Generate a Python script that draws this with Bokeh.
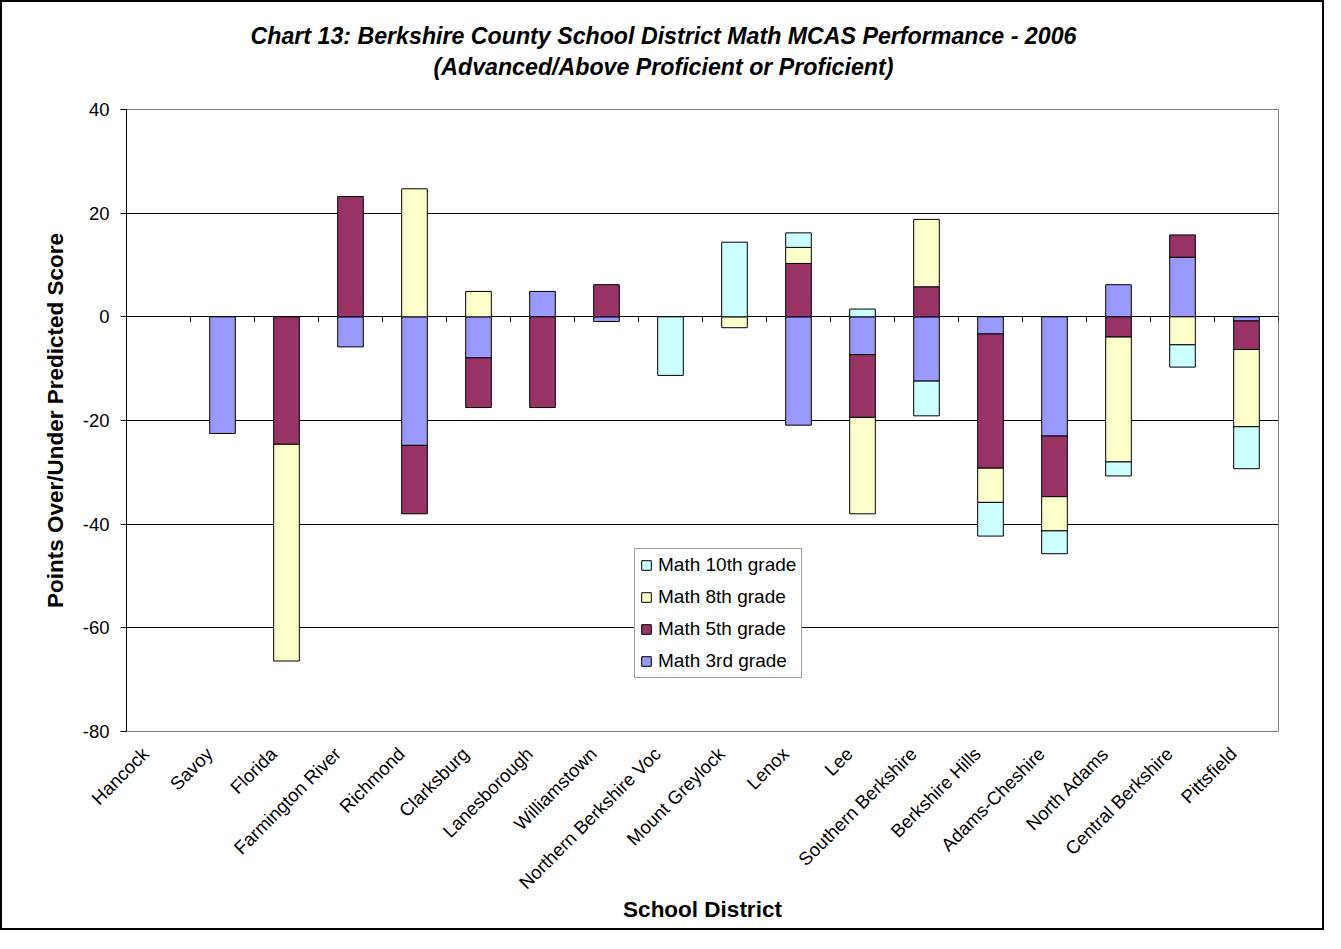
import math
import numpy as np
from bokeh.plotting import figure
from bokeh.models import (Range1d, Legend, LegendItem, Title,
                          FixedTicker, ColumnDataSource)
from bokeh.embed import file_html
from bokeh.resources import INLINE

# ---------------- data ----------------
districts = ["Hancock", "Savoy", "Florida", "Farmington River", "Richmond",
             "Clarksburg", "Lanesborough", "Williamstown",
             "Northern Berkshire Voc", "Mount Greylock", "Lenox", "Lee",
             "Southern Berkshire", "Berkshire Hills", "Adams-Cheshire",
             "North Adams", "Central Berkshire", "Pittsfield"]

math_3rd = [None, -22.5, None, -5.8, -24.8, -7.9, 4.9, -0.9, None, None,
            -20.9, -7.3, -12.4, -3.3, -23.0, 6.2, 11.5, -0.8]
math_5th = [None, None, -24.6, 23.2, -13.2, -9.6, -17.5, 6.2, None, None,
            10.3, -12.1, 5.8, -25.9, -11.7, -3.9, 4.3, -5.5]
math_8th = [None, None, -41.8, None, 24.7, 4.9, None, None, None, -2.1,
            3.1, -18.6, 13.0, -6.6, -6.6, -24.1, -5.4, -14.9]
math_10th = [None, None, None, None, None, None, None, None, -11.3, 14.4,
             2.8, 1.5, -6.7, -6.5, -4.4, -2.7, -4.3, -8.1]

series_names = ["Math 3rd grade", "Math 5th grade", "Math 8th grade", "Math 10th grade"]
series_values = [math_3rd, math_5th, math_8th, math_10th]
series_colors = ["#9999FF", "#993366", "#FFFFCC", "#CCFFFF"]

y_ticks = [-80, -60, -40, -20, 0, 20, 40]
grid_ticks = [-60, -40, -20, 0, 20]

title_line1 = "Chart 13: Berkshire County School District Math MCAS Performance - 2006"
title_line2 = "(Advanced/Above Proficient or Proficient)"

FONT = "Liberation Sans"

# ---------------- figure ----------------
n = len(districts)
centers = np.arange(n) + 0.5          # category centres on the x scale
boundaries = np.arange(n + 1)         # category separators (tick marks)
label_shift = 13 / 64.0               # Excel-style anchoring of slanted labels
label_pos = centers - label_shift

p = figure(width=1324, height=930, x_range=Range1d(0, n),
           y_range=Range1d(-80, 40), output_backend="svg", toolbar_location=None,
           title=None,
           min_border_left=124, min_border_right=48, min_border_top=107,
           min_border_bottom=201)
p.styles = {"border": "2px solid black"}
p.background_fill_color = "white"
p.border_fill_color = "white"
p.outline_line_color = "#808080"
p.outline_line_width = 1

# stacked bars, Excel style (positives up, negatives down)
pos_base = np.zeros(n)
neg_base = np.zeros(n)
renderers = {}
for name, vals, color in zip(series_names, series_values, series_colors):
    v = np.array([np.nan if a is None else a for a in vals], dtype=float)
    bottom = np.where(v >= 0, pos_base, neg_base)
    top = bottom + v
    pos_base = np.where(v > 0, pos_base + np.nan_to_num(v), pos_base)
    neg_base = np.where(v < 0, neg_base + np.nan_to_num(v), neg_base)
    src = ColumnDataSource(dict(x=centers, d=districts, top=top, bottom=bottom))
    r = p.vbar(x="x", top="top", bottom="bottom", width=0.4, source=src,
               fill_color=color, line_color="black", line_width=1)
    renderers[name] = r

# category tick marks on the zero line
tick_len = 5 * (40 - (-80)) / 622.0
p.segment(x0=boundaries, y0=np.zeros(n + 1), x1=boundaries,
          y1=np.full(n + 1, -tick_len), line_color="black", line_width=1)

# grid
p.xgrid.grid_line_color = None
p.ygrid.ticker = FixedTicker(ticks=grid_ticks)
p.ygrid.grid_line_color = "black"
p.ygrid.grid_line_width = 1

# y axis
p.yaxis.ticker = FixedTicker(ticks=y_ticks)
p.yaxis.major_label_overrides = {t: str(t) for t in y_ticks}
p.yaxis.axis_line_color = "black"
p.yaxis.major_tick_out = 6
p.yaxis.major_tick_in = 0
p.yaxis.minor_tick_line_color = None
p.yaxis.major_label_standoff = 11
p.yaxis.major_label_text_font = FONT
p.yaxis.major_label_text_font_size = "18.5px"
p.yaxis.major_label_text_color = "black"
p.yaxis.axis_label = "Points Over/Under Predicted Score"
p.yaxis.axis_label_text_font = FONT
p.yaxis.axis_label_text_font_size = "22.5px"
p.yaxis.axis_label_text_font_style = "bold"
p.yaxis.axis_label_text_color = "black"
p.yaxis.axis_label_standoff = 12

# x axis (category names)
p.xaxis.ticker = FixedTicker(ticks=list(label_pos))
p.xaxis.major_label_overrides = {float(xp): d for xp, d in zip(label_pos, districts)}
p.xaxis.axis_line_color = None
p.xaxis.major_tick_line_color = None
p.xaxis.minor_tick_line_color = None
p.xaxis.major_label_orientation = math.pi / 4
p.xaxis.major_label_standoff = 13
p.xaxis.major_label_text_font = FONT
p.xaxis.major_label_text_font_size = "18.5px"
p.xaxis.major_label_text_color = "black"
p.xaxis.axis_label = "School District"
p.xaxis.axis_label_text_font = FONT
p.xaxis.axis_label_text_font_size = "22.5px"
p.xaxis.axis_label_text_font_style = "bold"
p.xaxis.axis_label_text_color = "black"
p.xaxis.axis_label_standoff = -7

# title: two lines, centred over the whole chart area
p.add_layout(Title(text=title_line2, align="left", offset=307, standoff=60,
                   text_font=FONT, text_font_size="23.2px",
                   text_font_style="bold italic", text_color="black"), "above")
p.add_layout(Title(text=title_line1, align="left", offset=124, standoff=-54,
                   text_font=FONT, text_font_size="23.2px",
                   text_font_style="bold italic", text_color="black"), "above")

# legend
items = [LegendItem(label=nm, renderers=[renderers[nm]]) for nm in reversed(series_names)]
legend = Legend(items=items, location=(508, 53), orientation="vertical",
                label_text_font=FONT, label_text_font_size="19px",
                label_text_color="black", glyph_width=12, glyph_height=12,
                label_height=22, label_standoff=6, spacing=10, padding=5,
                margin=0, border_line_color="#404040", border_line_width=1,
                background_fill_color="white", background_fill_alpha=1.0)
p.add_layout(legend, "center")

open("out.html", "w").write(file_html(p, INLINE))
